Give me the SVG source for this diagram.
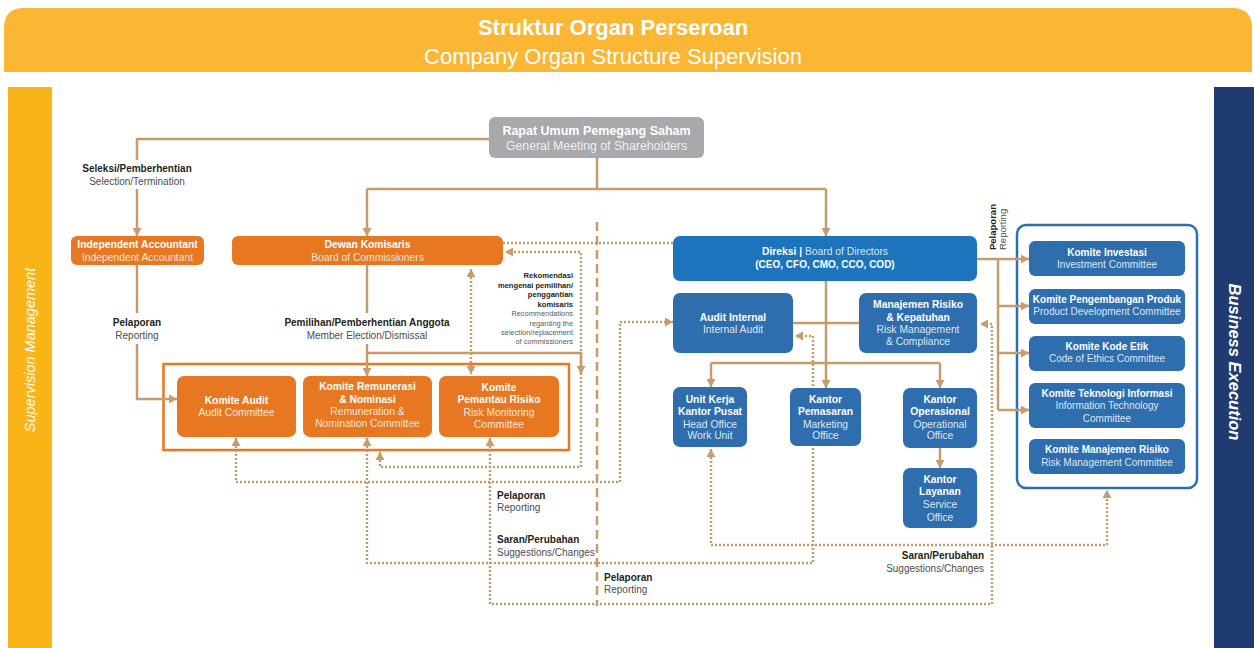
<svg xmlns="http://www.w3.org/2000/svg" width="1254" height="648" viewBox="0 0 1254 648">
<defs>
<marker id="ah" viewBox="0 0 8 9" refX="8" refY="4.5" markerWidth="8" markerHeight="9" markerUnits="userSpaceOnUse" orient="auto-start-reverse"><path d="M0,0 L8,4.5 L0,9 z" fill="#C69C6D"/></marker>
</defs>
<style>
text{font-family:"Liberation Sans",Arial,sans-serif}
.ln{fill:none;stroke:#C69C6D;stroke-width:2.5}
.dt{fill:none;stroke:#C69C6D;stroke-width:2.5;stroke-dasharray:2 2}
.ds{fill:none;stroke:#C69C6D;stroke-width:2.5;stroke-dasharray:9 5}
.or{fill:#E87722}
.bl{fill:#2F6EAE}
.dir{fill:#1D74BC}
.tb{font-weight:bold;fill:#fff;font-size:10.3px;text-anchor:middle}
.tr{fill:#fff;fill-opacity:.85;font-size:10.3px;text-anchor:middle}
.lb{font-weight:bold;fill:#231F20;font-size:10px}
.lr{fill:#4D4D4F;font-size:10px}
.rb{font-weight:bold;fill:#231F20;font-size:7.6px;text-anchor:end}
.rr{fill:#5a5a5a;font-size:7.4px;text-anchor:end}
.s10{font-size:10px}
</style>
<rect width="1254" height="648" fill="#fff"/>
<g id="header">
<path d="M4,72 V28 Q4,8 24,8 H1232 Q1252,8 1252,28 V72 Z" fill="#FBB634"/>
<text x="613" y="35" text-anchor="middle" font-size="22" font-weight="bold" fill="#fff">Struktur Organ Perseroan</text>
<text x="613" y="64" text-anchor="middle" font-size="22" fill="#fff">Company Organ Structure Supervision</text>
</g>
<g id="bar-left">
<rect x="8" y="87" width="44" height="561" fill="#F9B417"/>
<text transform="translate(35,350) rotate(-90)" text-anchor="middle" font-size="14.5" font-style="italic" fill="#fff">Supervision Management</text>
</g>
<g id="bar-right">
<rect x="1214" y="87" width="40" height="561" fill="#1F3B6F"/>
<text transform="translate(1229,362) rotate(90)" text-anchor="middle" font-size="16.5" font-weight="bold" font-style="italic" fill="#fff">Business Execution</text>
</g>
<g id="committee-frame">
<rect x="163.5" y="364" width="405.5" height="86" fill="none" stroke="#E87722" stroke-width="2.5"/>
</g>
<g id="business-frame">
<rect x="1017" y="225" width="180" height="263" rx="9" fill="none" stroke="#2F6EAE" stroke-width="2.5"/>
</g>
<g id="connectors">
<path class="ds" d="M597,222 V606"/>
<path class="ln" d="M489,139 H137 V160"/>
<path class="ln" d="M137,189 V236" marker-end="url(#ah)"/>
<path class="ln" d="M597,158 V189 M367,189 H826"/>
<path class="ln" d="M367,189 V236" marker-end="url(#ah)"/>
<path class="ln" d="M826,189 V236" marker-end="url(#ah)"/>
<path class="ln" d="M137,265 V313"/>
<path class="ln" d="M137,344 V399 H177" marker-end="url(#ah)"/>
<path class="ln" d="M367,265 V313"/>
<path class="ln" d="M367,344 V376" marker-end="url(#ah)"/>
<path class="ln" d="M367,353 H581 V374" marker-end="url(#ah)"/>
<path class="ln" d="M826,281 V388" marker-end="url(#ah)"/>
<path class="ln" d="M793,323 H859"/>
<path class="ln" d="M711,363 H940"/>
<path class="ln" d="M711,363 V387" marker-end="url(#ah)"/>
<path class="ln" d="M940,363 V388" marker-end="url(#ah)"/>
<path class="ln" d="M940,448 V468" marker-end="url(#ah)"/>
<path class="ln" d="M977,259 H1029" marker-end="url(#ah)"/>
<path class="ln" d="M998,259 V410"/>
<path class="ln" d="M998,306 H1029" marker-end="url(#ah)"/>
<path class="ln" d="M998,353 H1029" marker-end="url(#ah)"/>
<path class="ln" d="M998,410 H1029" marker-end="url(#ah)"/>
<path class="dt" d="M673,243 H503"/>
<path class="dt" d="M380,452 V467 H581 V252 H505" marker-start="url(#ah)" marker-end="url(#ah)"/>
<path class="dt" d="M471,269 V374" marker-start="url(#ah)" marker-end="url(#ah)"/>
<path class="dt" d="M236,438 V482 H620 V322 H673" marker-start="url(#ah)" marker-end="url(#ah)"/>
<path class="dt" d="M367,438 V563 H813 V336 H795" marker-start="url(#ah)" marker-end="url(#ah)"/>
<path class="dt" d="M490,438 V604 H992 V324 H980" marker-start="url(#ah)" marker-end="url(#ah)"/>
<path class="dt" d="M711,449 V545 H1107 V490" marker-start="url(#ah)" marker-end="url(#ah)"/>
</g>
<g id="labels">
<text class="lb" x="137" y="172" text-anchor="middle">Seleksi/Pemberhentian</text>
<text class="lr" x="137" y="185" text-anchor="middle">Selection/Termination</text>
<text class="lb" x="137" y="326" text-anchor="middle">Pelaporan</text>
<text class="lr" x="137" y="339" text-anchor="middle">Reporting</text>
<text class="lb" x="367" y="326" text-anchor="middle">Pemilihan/Pemberhentian Anggota</text>
<text class="lr" x="367" y="339" text-anchor="middle">Member Election/Dismissal</text>
<text class="rb" x="573" y="278">Rekomendasi</text>
<text class="rb" x="573" y="288">mengenai pemilihan/</text>
<text class="rb" x="573" y="297">penggantian</text>
<text class="rb" x="573" y="307">komisaris</text>
<text class="rr" x="573" y="316">Recommendations</text>
<text class="rr" x="573" y="326">regarding the</text>
<text class="rr" x="573" y="335">selection/replacement</text>
<text class="rr" x="573" y="344">of commissioners</text>
<text class="lb" x="497" y="499">Pelaporan</text>
<text class="lr" x="497" y="511">Reporting</text>
<text class="lb" x="497" y="543">Saran/Perubahan</text>
<text class="lr" x="497" y="556">Suggestions/Changes</text>
<text class="lb" x="604" y="581">Pelaporan</text>
<text class="lr" x="604" y="593">Reporting</text>
<text class="lb" x="984" y="559" text-anchor="end">Saran/Perubahan</text>
<text class="lr" x="984" y="572" text-anchor="end">Suggestions/Changes</text>
<text class="lb" transform="translate(996,250) rotate(-90)" style="font-size:9.5px">Pelaporan</text>
<text class="lr" transform="translate(1006,250) rotate(-90)" style="font-size:9.5px">Reporting</text>
</g>
<g id="gms">
<rect x="489" y="117" width="215" height="41" rx="6" fill="#A7A9AC"/>
<text class="tb" x="596.5" y="135" style="font-size:12.5px">Rapat Umum Pemegang Saham</text>
<text class="tr" x="596.5" y="150" style="font-size:12.3px">General Meeting of Shareholders</text>
</g>
<g id="independent-accountant">
<rect class="or" x="71" y="236" width="133" height="29" rx="6"/>
<text class="tb" x="137.5" y="248">Independent Accountant</text>
<text class="tr" x="137.5" y="261">Independent Accountant</text>
</g>
<g id="dewan-komisaris">
<rect class="or" x="232" y="236" width="271" height="29" rx="6"/>
<text class="tb" x="367.5" y="248">Dewan Komisaris</text>
<text class="tr" x="367.5" y="261">Board of Commissioners</text>
</g>
<g id="komite-audit">
<rect class="or" x="177" y="376" width="119" height="61" rx="7"/>
<text class="tb" x="236.5" y="404">Komite Audit</text>
<text class="tr" x="236.5" y="416">Audit Committee</text>
</g>
<g id="komite-remunerasi">
<rect class="or" x="303" y="376" width="129" height="61" rx="7"/>
<text class="tb" x="367.5" y="390">Komite Remunerasi</text>
<text class="tb" x="367.5" y="403">&amp; Nominasi</text>
<text class="tr" x="367.5" y="415">Remuneration &amp;</text>
<text class="tr" x="367.5" y="427">Nomination Committee</text>
</g>
<g id="komite-pemantau">
<rect class="or" x="439" y="376" width="120" height="61" rx="7"/>
<text class="tb" x="499" y="391">Komite</text>
<text class="tb" x="499" y="403">Pemantau Risiko</text>
<text class="tr" x="499" y="416">Risk Monitoring</text>
<text class="tr" x="499" y="428">Committee</text>
</g>
<g id="direksi">
<rect class="dir" x="673" y="236" width="304" height="45" rx="7"/>
<text class="tb" x="825" y="255"><tspan>Direksi |</tspan><tspan font-weight="normal" fill-opacity=".85"> Board of Directors</tspan></text>
<text class="tb s10" x="825" y="268">(CEO, CFO, CMO, CCO, COD)</text>
</g>
<g id="audit-internal">
<rect class="bl" x="673" y="293" width="120" height="60" rx="7"/>
<text class="tb" x="733" y="321">Audit Internal</text>
<text class="tr" x="733" y="333">Internal Audit</text>
</g>
<g id="manajemen-risiko">
<rect class="bl" x="859" y="293" width="118" height="60" rx="7"/>
<text class="tb" x="918" y="308">Manajemen Risiko</text>
<text class="tb" x="918" y="321">&amp; Kepatuhan</text>
<text class="tr" x="918" y="333">Risk Management</text>
<text class="tr" x="918" y="345">&amp; Compliance</text>
</g>
<g id="head-office">
<rect class="bl" x="673" y="387" width="74" height="60" rx="7"/>
<text class="tb" x="710" y="403">Unit Kerja</text>
<text class="tb" x="710" y="415">Kantor Pusat</text>
<text class="tr" x="710" y="428">Head Office</text>
<text class="tr" x="710" y="439">Work Unit</text>
</g>
<g id="marketing-office">
<rect class="bl" x="790" y="388" width="71" height="58" rx="7"/>
<text class="tb" x="825.5" y="403">Kantor</text>
<text class="tb" x="825.5" y="415">Pemasaran</text>
<text class="tr" x="825.5" y="428">Marketing</text>
<text class="tr" x="825.5" y="439">Office</text>
</g>
<g id="operational-office">
<rect class="bl" x="903" y="388" width="74" height="60" rx="7"/>
<text class="tb" x="940" y="403">Kantor</text>
<text class="tb" x="940" y="415">Operasional</text>
<text class="tr" x="940" y="428">Operational</text>
<text class="tr" x="940" y="439">Office</text>
</g>
<g id="service-office">
<rect class="bl" x="903" y="468" width="74" height="60" rx="7"/>
<text class="tb" x="940" y="483">Kantor</text>
<text class="tb" x="940" y="495">Layanan</text>
<text class="tr" x="940" y="508">Service</text>
<text class="tr" x="940" y="521">Office</text>
</g>
<g id="komite-investasi">
<rect class="bl" x="1029" y="241" width="156" height="35" rx="6"/>
<text class="tb s10" x="1107" y="256">Komite Investasi</text>
<text class="tr s10" x="1107" y="268">Investment Committee</text>
</g>
<g id="komite-pengembangan">
<rect class="bl" x="1029" y="289" width="156" height="35" rx="6"/>
<text class="tb s10" x="1107" y="303">Komite Pengembangan Produk</text>
<text class="tr s10" x="1107" y="315">Product Development Committee</text>
</g>
<g id="komite-kode-etik">
<rect class="bl" x="1029" y="336" width="156" height="35" rx="6"/>
<text class="tb s10" x="1107" y="350">Komite Kode Etik</text>
<text class="tr s10" x="1107" y="362">Code of Ethics Committee</text>
</g>
<g id="komite-teknologi">
<rect class="bl" x="1029" y="383" width="156" height="45" rx="6"/>
<text class="tb s10" x="1107" y="397">Komite Teknologi Informasi</text>
<text class="tr s10" x="1107" y="409">Information Technology</text>
<text class="tr s10" x="1107" y="422">Committee</text>
</g>
<g id="komite-manajemen-risiko">
<rect class="bl" x="1029" y="439" width="156" height="35" rx="6"/>
<text class="tb s10" x="1107" y="453">Komite Manajemen Risiko</text>
<text class="tr s10" x="1107" y="466">Risk Management Committee</text>
</g>
</svg>
